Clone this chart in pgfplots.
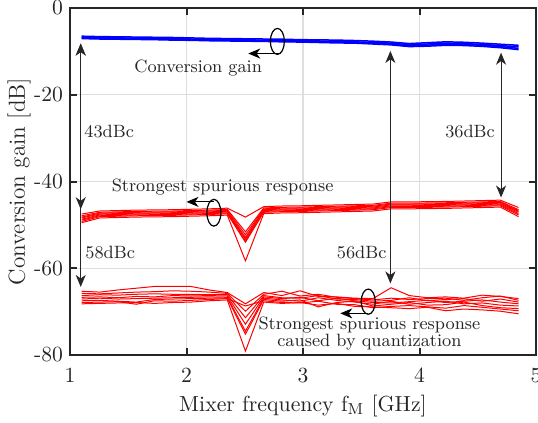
\documentclass[border=0pt]{standalone}
\usepackage{pgfplots}
\pgfplotsset{compat=1.18}
\usetikzlibrary{arrows.meta}
\definecolor{axgray}{rgb}{0.15,0.15,0.15}
\begin{document}
\begin{tikzpicture}
\begin{axis}[
  name=ax, scale only axis, width=233pt, height=173.5pt,
  xmin=1, xmax=5, ymin=-80, ymax=0,
  xtick={1,2,3,4,5}, xticklabels={1,2,3,4,5},
  ytick={-80,-60,-40,-20,0}, yticklabels={-80,-60,-40,-20,0},
  tick align=inside, tick pos=both, major tick length=3.3pt,
  grid=major, grid style={line width=0.6pt, black!13},
  axis line style={line width=1pt, axgray},
  every tick/.style={axgray, line width=1pt},
  tick label style={font=\fontsize{10.8}{12}\selectfont, text=axgray},
  xticklabel style={yshift=-3pt},
  xlabel={Mixer frequency f$_{\mathrm{M}}$ [GHz]},
  ylabel={Conversion gain [dB]},
  xlabel style={font=\fontsize{10.9}{12}\selectfont, text=axgray, at={(axis description cs:0.5,-0.147)},anchor=center},
  ylabel style={font=\fontsize{11.6}{13}\selectfont, text=axgray, at={(axis description cs:-0.1094,0.5)},anchor=center},
  clip=false,
]
% ---------- conversion gain (blue) ----------
\addplot[blue, line width=0.75pt] coordinates {(1.1,-6.5)(1.256,-6.6)(1.413,-6.65)(1.569,-6.7)(1.725,-6.75)(1.881,-6.8)(2.038,-6.9)(2.194,-7.0)(2.35,-7.05)(2.506,-7.1)(2.663,-7.15)(2.819,-7.2)(2.975,-7.3)(3.131,-7.35)(3.288,-7.4)(3.444,-7.5)(3.6,-7.65)(3.756,-7.85)(3.913,-8.2)(4.069,-8.0)(4.225,-7.8)(4.381,-7.9)(4.538,-8.1)(4.694,-8.35)(4.85,-8.6)};
\addplot[blue, line width=0.75pt] coordinates {(1.1,-6.75)(1.256,-6.85)(1.413,-6.9)(1.569,-6.95)(1.725,-7.0)(1.881,-7.05)(2.038,-7.15)(2.194,-7.25)(2.35,-7.3)(2.506,-7.35)(2.663,-7.4)(2.819,-7.45)(2.975,-7.55)(3.131,-7.6)(3.288,-7.7)(3.444,-7.8)(3.6,-7.95)(3.756,-8.1)(3.913,-8.5)(4.069,-8.3)(4.225,-8.1)(4.381,-8.2)(4.538,-8.4)(4.694,-8.65)(4.85,-8.95)};
\addplot[blue, line width=0.75pt] coordinates {(1.1,-6.9)(1.256,-7.0)(1.413,-7.05)(1.569,-7.1)(1.725,-7.15)(1.881,-7.2)(2.038,-7.3)(2.194,-7.4)(2.35,-7.45)(2.506,-7.5)(2.663,-7.55)(2.819,-7.65)(2.975,-7.7)(3.131,-7.8)(3.288,-7.85)(3.444,-7.95)(3.6,-8.1)(3.756,-8.3)(3.913,-8.7)(4.069,-8.55)(4.225,-8.35)(4.381,-8.4)(4.538,-8.6)(4.694,-8.9)(4.85,-9.3)};
\addplot[blue, line width=0.75pt] coordinates {(1.1,-7.05)(1.256,-7.15)(1.413,-7.2)(1.569,-7.25)(1.725,-7.3)(1.881,-7.4)(2.038,-7.45)(2.194,-7.55)(2.35,-7.6)(2.506,-7.65)(2.663,-7.7)(2.819,-7.8)(2.975,-7.85)(3.131,-7.95)(3.288,-8.05)(3.444,-8.1)(3.6,-8.3)(3.756,-8.5)(3.913,-8.9)(4.069,-8.8)(4.225,-8.6)(4.381,-8.65)(4.538,-8.85)(4.694,-9.15)(4.85,-9.6)};
% ---------- strongest spurious response (red, upper) ----------
\addplot[red, line width=0.5pt] coordinates {(1.1,-47.5)(1.256,-46.8)(1.413,-46.7)(1.569,-46.6)(1.725,-46.55)(1.881,-46.5)(2.038,-46.4)(2.194,-46.3)(2.35,-46.15)(2.506,-48.2)(2.663,-45.8)(2.819,-45.65)(2.975,-45.6)(3.131,-45.5)(3.288,-45.4)(3.444,-45.3)(3.6,-45.2)(3.756,-44.7)(3.913,-44.7)(4.069,-44.65)(4.225,-44.6)(4.381,-44.5)(4.538,-44.4)(4.694,-44.3)(4.85,-46.0)};
\addplot[red, line width=0.5pt] coordinates {(1.1,-47.9)(1.256,-47.1)(1.413,-47.0)(1.569,-46.9)(1.725,-46.85)(1.881,-46.8)(2.038,-46.7)(2.194,-46.6)(2.35,-46.45)(2.506,-51.6)(2.663,-46.1)(2.819,-45.95)(2.975,-45.9)(3.131,-45.8)(3.288,-45.7)(3.444,-45.6)(3.6,-45.5)(3.756,-45.0)(3.913,-45.0)(4.069,-44.95)(4.225,-44.9)(4.381,-44.8)(4.538,-44.7)(4.694,-44.6)(4.85,-46.5)};
\addplot[red, line width=0.5pt] coordinates {(1.1,-48.2)(1.256,-47.3)(1.413,-47.2)(1.569,-47.1)(1.725,-47.05)(1.881,-47.0)(2.038,-46.9)(2.194,-46.8)(2.35,-46.65)(2.506,-52.3)(2.663,-46.3)(2.819,-46.15)(2.975,-46.1)(3.131,-46.0)(3.288,-45.9)(3.444,-45.8)(3.6,-45.7)(3.756,-45.2)(3.913,-45.2)(4.069,-45.15)(4.225,-45.1)(4.381,-45.0)(4.538,-44.9)(4.694,-44.8)(4.85,-46.7)};
\addplot[red, line width=0.5pt] coordinates {(1.1,-48.4)(1.256,-47.5)(1.413,-47.4)(1.569,-47.3)(1.725,-47.25)(1.881,-47.2)(2.038,-47.1)(2.194,-47.0)(2.35,-46.85)(2.506,-52.9)(2.663,-46.5)(2.819,-46.35)(2.975,-46.3)(3.131,-46.2)(3.288,-46.1)(3.444,-46.0)(3.6,-45.9)(3.756,-45.4)(3.913,-45.4)(4.069,-45.35)(4.225,-45.3)(4.381,-45.2)(4.538,-45.1)(4.694,-45.0)(4.85,-46.9)};
\addplot[red, line width=0.5pt] coordinates {(1.1,-48.7)(1.256,-47.7)(1.413,-47.6)(1.569,-47.5)(1.725,-47.45)(1.881,-47.4)(2.038,-47.3)(2.194,-47.2)(2.35,-47.05)(2.506,-53.3)(2.663,-46.7)(2.819,-46.55)(2.975,-46.5)(3.131,-46.4)(3.288,-46.3)(3.444,-46.2)(3.6,-46.1)(3.756,-45.6)(3.913,-45.6)(4.069,-45.55)(4.225,-45.5)(4.381,-45.4)(4.538,-45.3)(4.694,-45.2)(4.85,-47.1)};
\addplot[red, line width=0.5pt] coordinates {(1.1,-48.9)(1.256,-47.9)(1.413,-47.8)(1.569,-47.7)(1.725,-47.65)(1.881,-47.6)(2.038,-47.5)(2.194,-47.4)(2.35,-47.25)(2.506,-53.7)(2.663,-46.9)(2.819,-46.75)(2.975,-46.7)(3.131,-46.6)(3.288,-46.5)(3.444,-46.4)(3.6,-46.3)(3.756,-45.8)(3.913,-45.8)(4.069,-45.75)(4.225,-45.7)(4.381,-45.6)(4.538,-45.5)(4.694,-45.4)(4.85,-47.4)};
\addplot[red, line width=0.5pt] coordinates {(1.1,-49.2)(1.256,-48.1)(1.413,-48.0)(1.569,-47.9)(1.725,-47.85)(1.881,-47.8)(2.038,-47.7)(2.194,-47.6)(2.35,-47.45)(2.506,-54.0)(2.663,-47.1)(2.819,-46.95)(2.975,-46.9)(3.131,-46.8)(3.288,-46.7)(3.444,-46.6)(3.6,-46.5)(3.756,-46.0)(3.913,-46.0)(4.069,-45.95)(4.225,-45.9)(4.381,-45.8)(4.538,-45.7)(4.694,-45.6)(4.85,-47.7)};
\addplot[red, line width=0.5pt] coordinates {(1.1,-49.5)(1.256,-48.4)(1.413,-48.3)(1.569,-48.2)(1.725,-48.15)(1.881,-48.1)(2.038,-48.0)(2.194,-47.9)(2.35,-47.75)(2.506,-58.3)(2.663,-47.4)(2.819,-47.25)(2.975,-47.2)(3.131,-47.1)(3.288,-47.0)(3.444,-46.9)(3.6,-46.8)(3.756,-46.3)(3.913,-46.3)(4.069,-46.25)(4.225,-46.2)(4.381,-46.1)(4.538,-46.0)(4.694,-45.9)(4.85,-48.1)};
% ---------- spurious caused by quantization (red, lower) ----------
\addplot[red, line width=0.5pt] coordinates {(1.1,-65.3)(1.256,-65.5)(1.413,-65.0)(1.569,-64.6)(1.725,-64.2)(1.881,-64.2)(2.038,-64.2)(2.194,-65.0)(2.35,-65.6)(2.506,-68.2)(2.663,-65.6)(2.819,-66.3)(2.975,-65.2)(3.131,-66.5)(3.288,-66.6)(3.444,-66.9)(3.6,-67.0)(3.756,-64.5)(3.913,-66.3)(4.069,-66.8)(4.225,-66.6)(4.381,-66.9)(4.538,-66.2)(4.694,-66.5)(4.85,-67.0)};
\addplot[red, line width=0.5pt] coordinates {(1.1,-65.8)(1.256,-65.9)(1.413,-65.7)(1.569,-65.5)(1.725,-65.4)(1.881,-65.2)(2.038,-65.3)(2.194,-65.5)(2.35,-65.8)(2.506,-69.9)(2.663,-66.0)(2.819,-65.3)(2.975,-66.4)(3.131,-66.0)(3.288,-66.7)(3.444,-67.0)(3.6,-67.3)(3.756,-66.9)(3.913,-67.2)(4.069,-67.0)(4.225,-66.9)(4.381,-67.4)(4.538,-66.8)(4.694,-66.4)(4.85,-67.4)};
\addplot[red, line width=0.5pt] coordinates {(1.1,-66.3)(1.256,-66.1)(1.413,-66.2)(1.569,-66.0)(1.725,-65.9)(1.881,-66.0)(2.038,-66.0)(2.194,-66.1)(2.35,-66.1)(2.506,-71.4)(2.663,-66.3)(2.819,-66.8)(2.975,-66.9)(3.131,-66.3)(3.288,-67.1)(3.444,-67.2)(3.6,-67.6)(3.756,-67.4)(3.913,-66.8)(4.069,-67.5)(4.225,-67.2)(4.381,-67.0)(4.538,-67.6)(4.694,-67.1)(4.85,-67.8)};
\addplot[red, line width=0.5pt] coordinates {(1.1,-66.7)(1.256,-66.6)(1.413,-66.8)(1.569,-66.5)(1.725,-66.6)(1.881,-66.3)(2.038,-66.4)(2.194,-66.3)(2.35,-66.4)(2.506,-72.9)(2.663,-66.6)(2.819,-67.0)(2.975,-66.7)(3.131,-67.5)(3.288,-66.9)(3.444,-67.5)(3.6,-67.9)(3.756,-68.0)(3.913,-67.7)(4.069,-67.4)(4.225,-67.9)(4.381,-67.6)(4.538,-67.3)(4.694,-67.8)(4.85,-68.2)};
\addplot[red, line width=0.5pt] coordinates {(1.1,-67.1)(1.256,-66.9)(1.413,-67.1)(1.569,-67.0)(1.725,-66.9)(1.881,-66.8)(2.038,-66.7)(2.194,-66.6)(2.35,-66.7)(2.506,-74.5)(2.663,-66.9)(2.819,-67.3)(2.975,-67.6)(3.131,-66.8)(3.288,-67.4)(3.444,-67.8)(3.6,-68.3)(3.756,-67.6)(3.913,-68.3)(4.069,-67.9)(4.225,-67.6)(4.381,-68.2)(4.538,-68.0)(4.694,-68.5)(4.85,-68.7)};
\addplot[red, line width=0.5pt] coordinates {(1.1,-67.5)(1.256,-67.4)(1.413,-67.6)(1.569,-67.8)(1.725,-67.2)(1.881,-67.1)(2.038,-67.0)(2.194,-66.9)(2.35,-66.9)(2.506,-75.2)(2.663,-67.2)(2.819,-67.6)(2.975,-67.3)(3.131,-68.9)(3.288,-67.9)(3.444,-67.6)(3.6,-68.7)(3.756,-68.3)(3.913,-67.9)(4.069,-68.5)(4.225,-68.4)(4.381,-67.8)(4.538,-68.6)(4.694,-69.1)(4.85,-69.3)};
\addplot[red, line width=0.5pt] coordinates {(1.1,-67.9)(1.256,-67.8)(1.413,-67.7)(1.569,-68.3)(1.725,-67.5)(1.881,-67.6)(2.038,-67.4)(2.194,-67.2)(2.35,-67.0)(2.506,-68.7)(2.663,-67.5)(2.819,-67.9)(2.975,-68.0)(3.131,-67.6)(3.288,-68.3)(3.444,-68.4)(3.6,-69.1)(3.756,-68.8)(3.913,-68.6)(4.069,-68.9)(4.225,-69.2)(4.381,-68.6)(4.538,-69.0)(4.694,-69.4)(4.85,-69.8)};
\addplot[red, line width=0.5pt] coordinates {(1.1,-68.2)(1.256,-68.1)(1.413,-68.0)(1.569,-67.9)(1.725,-68.1)(1.881,-67.9)(2.038,-67.8)(2.194,-67.5)(2.35,-67.3)(2.506,-79.1)(2.663,-67.8)(2.819,-68.1)(2.975,-67.9)(3.131,-68.5)(3.288,-68.1)(3.444,-68.8)(3.6,-68.9)(3.756,-69.1)(3.913,-69.3)(4.069,-69.0)(4.225,-69.8)(4.381,-69.4)(4.538,-69.6)(4.694,-69.9)(4.85,-70.5)};
% ---------- annotations ----------
\tikzset{dbarrow/.style={line width=0.55pt, black!85, {Stealth[length=6pt,width=5pt,inset=1.8pt]}-{Stealth[length=6pt,width=5pt,inset=1.8pt]}},
         sarrow/.style={line width=0.6pt, black, -{Stealth[length=6pt,width=5pt,inset=1.8pt]}},
         ann/.style={font=\fontsize{8.9}{8.5}\selectfont, text=black!85, inner sep=0pt}}
\draw[dbarrow] (axis cs:1.092,-8.2) -- (axis cs:1.092,-46.4);
\draw[dbarrow] (axis cs:1.092,-8.2) -- (axis cs:1.092,-64.3);
\draw[dbarrow] (axis cs:3.75,-9.9) -- (axis cs:3.75,-63.5);
\draw[dbarrow] (axis cs:4.70,-10.3) -- (axis cs:4.70,-43.7);
\node[ann, anchor=west] at (axis cs:1.12,-28.4) {43dBc};
\node[ann, anchor=west] at (axis cs:1.129,-56.3) {58dBc};
\node[ann, anchor=east] at (axis cs:3.72,-56.3) {56dBc};
\node[ann, anchor=east] at (axis cs:4.65,-28.4) {36dBc};
% conversion gain label
\draw[line width=0.6pt] (axis cs:2.78,-7.7) ellipse [x radius=3.5pt, y radius=6.5pt];
\draw[sarrow] (axis cs:2.79,-10.5) -- (axis cs:2.53,-10.5);
\node[ann] at (axis cs:2.1,-13.8) {Conversion gain};
% strongest spurious label
\draw[line width=0.6pt] (axis cs:2.235,-47.2) ellipse [x radius=3.5pt, y radius=6.7pt];
\draw[sarrow] (axis cs:2.235,-44.7) -- (axis cs:2.0,-44.7);
\node[ann] at (axis cs:2.31,-41.3) {Strongest spurious response};
% quantization label
\draw[line width=0.6pt] (axis cs:3.56,-67.7) ellipse [x radius=3.5pt, y radius=6.3pt];
\draw[sarrow] (axis cs:3.56,-70.4) -- (axis cs:3.32,-70.4);
\node[ann, align=center] at (axis cs:3.57,-75.1) {Strongest spurious response\\caused by quantization};
\end{axis}
\pgfresetboundingbox
\path[use as bounding box] ([shift={(-35pt,-33.5pt)}]ax.south west) rectangle ([shift={(1pt,4pt)}]ax.north east);
\end{tikzpicture}
\end{document}
